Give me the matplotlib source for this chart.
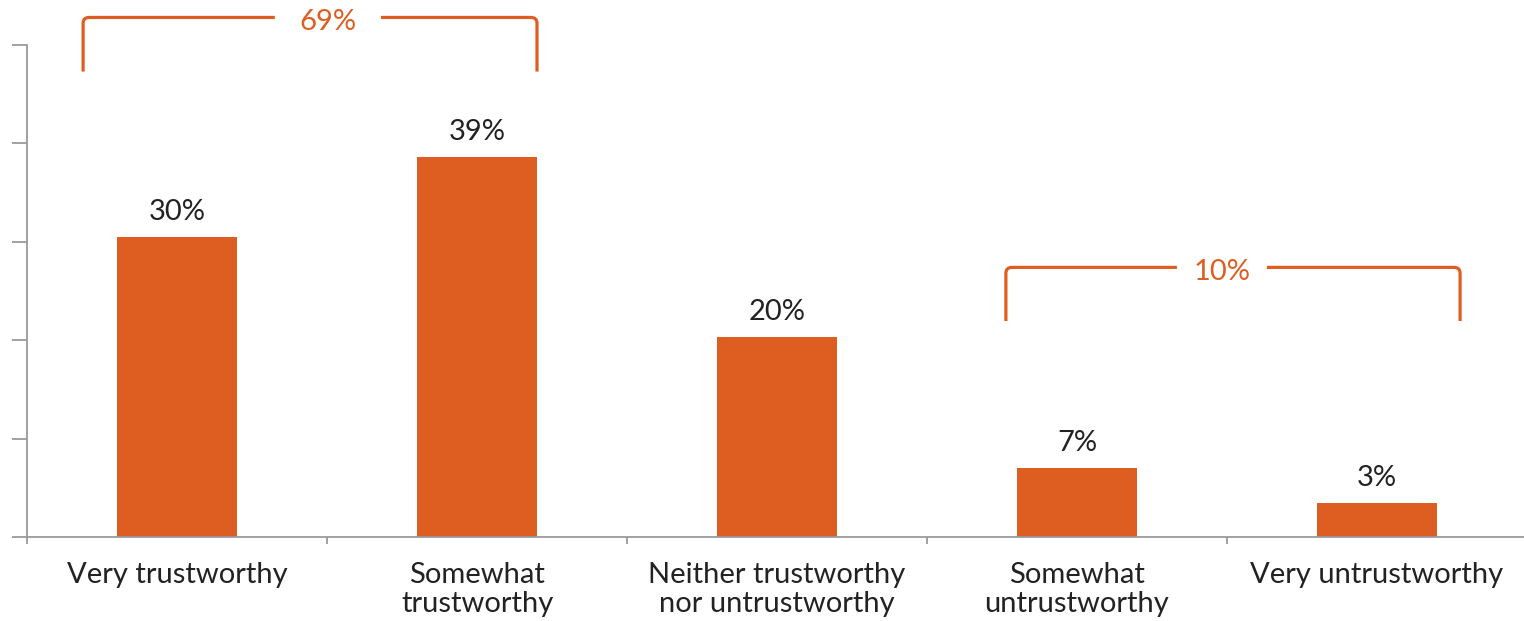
import matplotlib
matplotlib.use("Agg")
import matplotlib.pyplot as plt
from matplotlib.path import Path
from matplotlib.patches import PathPatch

# Datos del grafico
categorias = ["Very trustworthy", "Somewhat\ntrustworthy",
              "Neither trustworthy\nnor untrustworthy", "Somewhat\nuntrustworthy",
              "Very untrustworthy"]
valores = [30.5, 38.6, 20.3, 7.0, 3.5]
etiquetas = ["30%", "39%", "20%", "7%", "3%"]

# Llaves de agrupacion: (inicio, fin, texto)
grupos = [(0, 1, "69%"), (3, 4, "10%")]

naranja = "#DD5E20"
gris = "#9a9a9a"
texto = "#222222"

plt.rcParams["font.family"] = ["Lato", "DejaVu Sans"]

fig = plt.figure(figsize=(15.24, 6.21), dpi=100)
ax = fig.add_axes([27 / 1524, 84 / 621, 1500 / 1524, 492 / 621])

x = list(range(len(categorias)))
ax.bar(x, valores, width=0.4, color=naranja)

# etiquetas encima de cada barra
for xi, v, et in zip(x, valores, etiquetas):
    ax.annotate(et, (xi, v), xytext=(0, 18), textcoords="offset points",
                ha="center", va="center", fontsize=21, color=texto)

ax.set_xlim(-0.5, 4.5)
ax.set_ylim(0, 50)

# ejes
for lado in ["top", "right"]:
    ax.spines[lado].set_visible(False)
for lado in ["left", "bottom"]:
    ax.spines[lado].set_color(gris)
    ax.spines[lado].set_linewidth(1.3)

ax.set_yticks(range(0, 51, 10))
ax.set_yticklabels([])
ax.tick_params(axis="y", direction="out", length=11, width=1.3, color=gris)

ax.set_xticks(x)
ax.set_xticklabels(categorias, fontsize=21, color=texto, linespacing=1.12)
ax.set_xticks([i - 0.5 for i in range(len(categorias) + 1)], minor=True)
ax.tick_params(axis="x", which="major", length=0, pad=18)
ax.tick_params(axis="x", which="minor", direction="out", length=5, width=1.3, color=gris)


def llave(ax, x0, x1, ytop, ybot, xt, hueco, et):
    """Dibuja una llave con esquinas redondeadas y el texto en medio"""
    rx, ry = 0.02, 0.6
    izq = Path([(x0, ybot), (x0, ytop - ry), (x0, ytop), (x0 + rx, ytop), (xt - hueco, ytop)],
               [Path.MOVETO, Path.LINETO, Path.CURVE3, Path.CURVE3, Path.LINETO])
    der = Path([(xt + hueco, ytop), (x1 - rx, ytop), (x1, ytop), (x1, ytop - ry), (x1, ybot)],
               [Path.MOVETO, Path.LINETO, Path.CURVE3, Path.CURVE3, Path.LINETO])
    for p in (izq, der):
        ax.add_patch(PathPatch(p, fill=False, edgecolor=naranja, linewidth=2.3,
                               capstyle="butt", clip_on=False))
    ax.text(xt, ytop - 0.45, et, ha="center", va="center", fontsize=21, color=naranja,
            clip_on=False)


# posiciones de las llaves en unidades de datos
llave(ax, -0.313, 1.2, 52.8, 47.3, 0.503, 0.177, grupos[0][2])
llave(ax, 2.763, 4.277, 27.4, 21.95, 3.483, 0.15, grupos[1][2])

fig.savefig("out.png", dpi=100)
